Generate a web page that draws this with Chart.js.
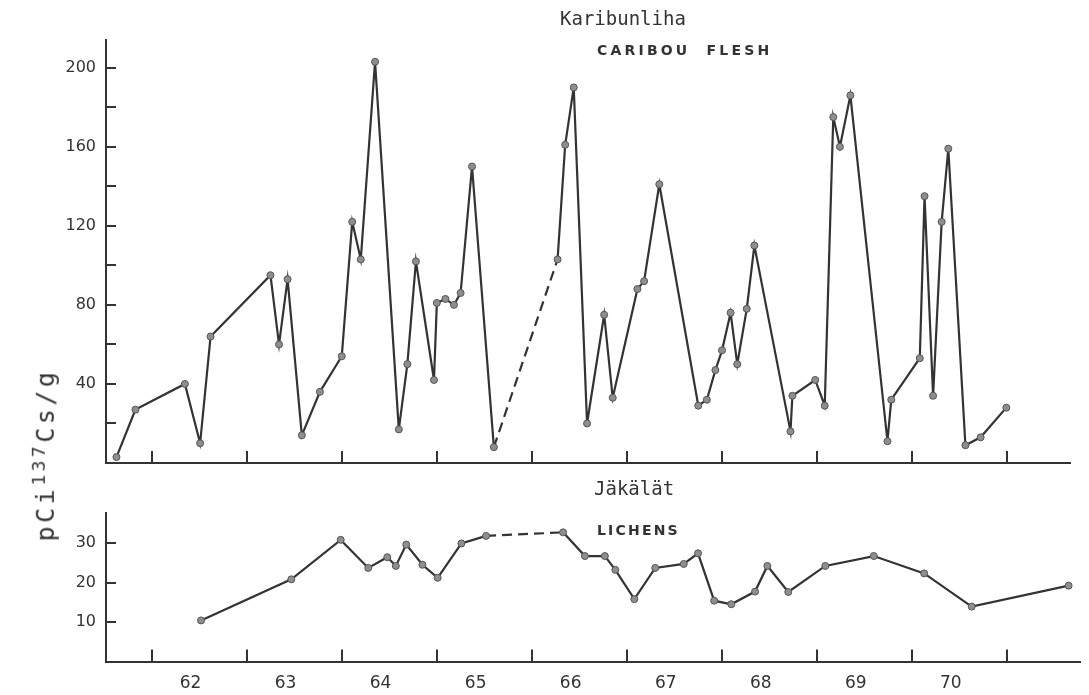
<!DOCTYPE html>
<html>
<head>
<meta charset="utf-8">
<script src="https://cdn.jsdelivr.net/npm/chart.js@4.4.1/dist/chart.umd.min.js"></script>
<style>
  body { margin: 0; background: #fff; width: 1089px; height: 695px; position: relative; overflow: hidden; }
  .panel { position: absolute; left: 0; }
  .note { position: absolute; color: #333; white-space: pre; line-height: 1; }
  .typed { font-family: "DejaVu Sans Mono", monospace; font-size: 19px; }
  .caps { font-family: "DejaVu Sans", sans-serif; font-weight: bold; font-size: 14px; letter-spacing: 2.2px; }
  #ylab { position: absolute; left: 44px; top: 455px; width: 0; height: 0; }
  #ylab span { position: absolute; left: 0; top: 0; transform: translate(-50%, -50%) rotate(-90deg);
    font-family: "DejaVu Sans Mono", monospace; font-size: 25px; letter-spacing: 3.5px; color: #333; white-space: nowrap; }
  #ylab sup { font-size: 18px; }
</style>
</head>
<body>
<div class="panel" style="top:480px"><canvas id="lichenChart" width="1089" height="215"></canvas></div>
<div class="panel" style="top:0"><canvas id="caribouChart" width="1089" height="490"></canvas></div>

<div class="note typed" style="left:560px; top:9px">Karibunliha</div>
<div class="note caps" style="left:597px; top:43px; letter-spacing: 3.2px">CARIBOU  FLESH</div>
<div class="note typed" style="left:594px; top:479px">Jäkälät</div>
<div class="note caps" style="left:597px; top:523px">LICHENS</div>
<div id="ylab"><span>pCi<sup>137</sup>Cs/g</span></div>

<script>
// Karibunliha / caribou flesh (x = vuosi desimaalina)
const caribouYears = [1961.63, 1961.83, 1962.35, 1962.51, 1962.62, 1963.25, 1963.34, 1963.43, 1963.58, 1963.77,
    1964.0, 1964.11, 1964.2, 1964.35, 1964.6, 1964.69, 1964.78, 1964.97, 1965.0, 1965.09,
    1965.18, 1965.25, 1965.37, 1965.6, 1966.27, 1966.35, 1966.44, 1966.58, 1966.76, 1966.85,
    1967.11, 1967.18, 1967.34, 1967.75, 1967.84, 1967.93, 1968.0, 1968.09, 1968.16, 1968.26,
    1968.34, 1968.72, 1968.74, 1968.98, 1969.08, 1969.17, 1969.24, 1969.35, 1969.74, 1969.78,
    1970.08, 1970.13, 1970.22, 1970.31, 1970.38, 1970.56, 1970.72, 1970.99];
const caribouValues = [3, 27, 40, 10, 64, 95, 60, 93, 14, 36,
    54, 122, 103, 203, 17, 50, 102, 42, 81, 83,
    80, 86, 150, 8, 103, 161, 190, 20, 75, 33,
    88, 92, 141, 29, 32, 47, 57, 76, 50, 78,
    110, 16, 34, 42, 29, 175, 160, 186, 11, 32,
    53, 135, 34, 122, 159, 9, 13, 28];
const caribouGap = 23; // katkoviiva tämän pisteen jälkeen

// Jäkälät / lichens
const lichenYears = [1962.52, 1963.47, 1963.99, 1964.28, 1964.48, 1964.57, 1964.68, 1964.85, 1965.01, 1965.26,
    1965.52, 1966.33, 1966.56, 1966.77, 1966.88, 1967.08, 1967.3, 1967.6, 1967.75, 1967.92,
    1968.1, 1968.35, 1968.48, 1968.7, 1969.09, 1969.6, 1970.13, 1970.63, 1971.65];
const lichenValues = [10.4, 20.8, 30.8, 23.7, 26.4, 24.2, 29.6, 24.5, 21.2, 29.9,
    31.8, 32.7, 26.7, 26.7, 23.2, 15.8, 23.7, 24.7, 27.4, 15.4,
    14.5, 17.7, 24.2, 17.6, 24.2, 26.7, 22.3, 13.9, 19.2];
const lichenGap = 10;

// akselit
const yearTicks = [1962, 1963, 1964, 1965, 1966, 1967, 1968, 1969, 1970, 1971];
const yearLabels = ['62', '63', '64', '65', '66', '67', '68', '69', '70'];
const caribouTickMarks = [20, 40, 60, 80, 100, 120, 140, 160, 180, 200];
const caribouTickLabels = [40, 80, 120, 160, 200];
const lichenTickLabels = [10, 20, 30];

const ink = '#333';

// pienet tikut akselien sisäpuolelle
const innerTicks = {
    id: 'innerTicks',
    afterDatasetsDraw(chart, args, opts) {
        const { ctx, chartArea, scales: { x, y } } = chart;
        ctx.save();
        ctx.strokeStyle = ink;
        ctx.lineWidth = 2;
        ctx.beginPath();
        opts.yMarks.forEach(v => {
            const py = Math.round(y.getPixelForValue(v));
            ctx.moveTo(chartArea.left, py);
            ctx.lineTo(chartArea.left + 10, py);
        });
        yearTicks.forEach(v => {
            const px = Math.round(x.getPixelForValue(v));
            ctx.moveTo(px, chartArea.bottom);
            ctx.lineTo(px, chartArea.bottom - 12);
        });
        ctx.stroke();
        ctx.restore();
    }
};

function lineDataset(years, values, gap) {
    return {
        data: years.map((x, i) => ({ x: x, y: values[i] })),
        borderColor: '#333',
        borderWidth: 2.2,
        pointRadius: 3.5,
        pointBackgroundColor: '#8e8e8e',
        pointBorderColor: '#555',
        pointBorderWidth: 1,
        tension: 0,
        segment: {
            borderDash: ctx => ctx.p0DataIndex === gap ? [10, 6] : undefined
        }
    };
}

function makeChart(id, cfg) {
    return new Chart(document.getElementById(id), {
        type: 'line',
        data: { datasets: [lineDataset(cfg.years, cfg.values, cfg.gap)] },
        options: {
            responsive: false,
            animation: false,
            layout: { padding: cfg.padding },
            plugins: {
                legend: { display: false },
                tooltip: { enabled: false },
                innerTicks: { yMarks: cfg.yMarks }
            },
            scales: {
                x: {
                    type: 'linear',
                    min: 1961.52,
                    max: cfg.xMax,
                    border: { display: true, color: ink, width: 2 },
                    grid: { drawOnChartArea: false, drawTicks: false },
                    afterBuildTicks: s => { s.ticks = yearLabels.map((l, i) => ({ value: yearTicks[i] + 0.41 })); },
                    afterFit: s => { s.height = cfg.xHeight; },
                    ticks: {
                        display: cfg.showYears,
                        autoSkip: false,
                        maxRotation: 0,
                        padding: 12,
                        color: ink,
                        font: { family: 'DejaVu Sans', size: 17 },
                        callback: (v, i) => yearLabels[i]
                    }
                },
                y: {
                    min: 0,
                    max: cfg.yMax,
                    border: { display: true, color: ink, width: 2 },
                    grid: { drawOnChartArea: false, drawTicks: false },
                    afterBuildTicks: s => { s.ticks = cfg.yLabels.map(v => ({ value: v })); },
                    afterFit: s => { s.width = 106; },
                    ticks: {
                        padding: 10,
                        color: ink,
                        font: { family: 'DejaVu Sans', size: 16 }
                    }
                }
            }
        },
        plugins: [innerTicks]
    });
}

document.addEventListener('DOMContentLoaded', function() {
    // ylempi paneeli: karibunliha
    makeChart('caribouChart', {
        years: caribouYears, values: caribouValues, gap: caribouGap,
        yMax: 214, xMax: 1971.66, yLabels: caribouTickLabels, yMarks: caribouTickMarks,
        padding: { top: 40, right: 19, left: 0, bottom: 0 }, xHeight: 27, showYears: false
    });

    // alempi paneeli: jäkälät
    makeChart('lichenChart', {
        years: lichenYears, values: lichenValues, gap: lichenGap,
        yMax: 37.6, xMax: 1971.77, yLabels: lichenTickLabels, yMarks: lichenTickLabels,
        padding: { top: 33, right: 9, left: 0, bottom: 0 }, xHeight: 33.5, showYears: true
    });
});
</script>
</body>
</html>
